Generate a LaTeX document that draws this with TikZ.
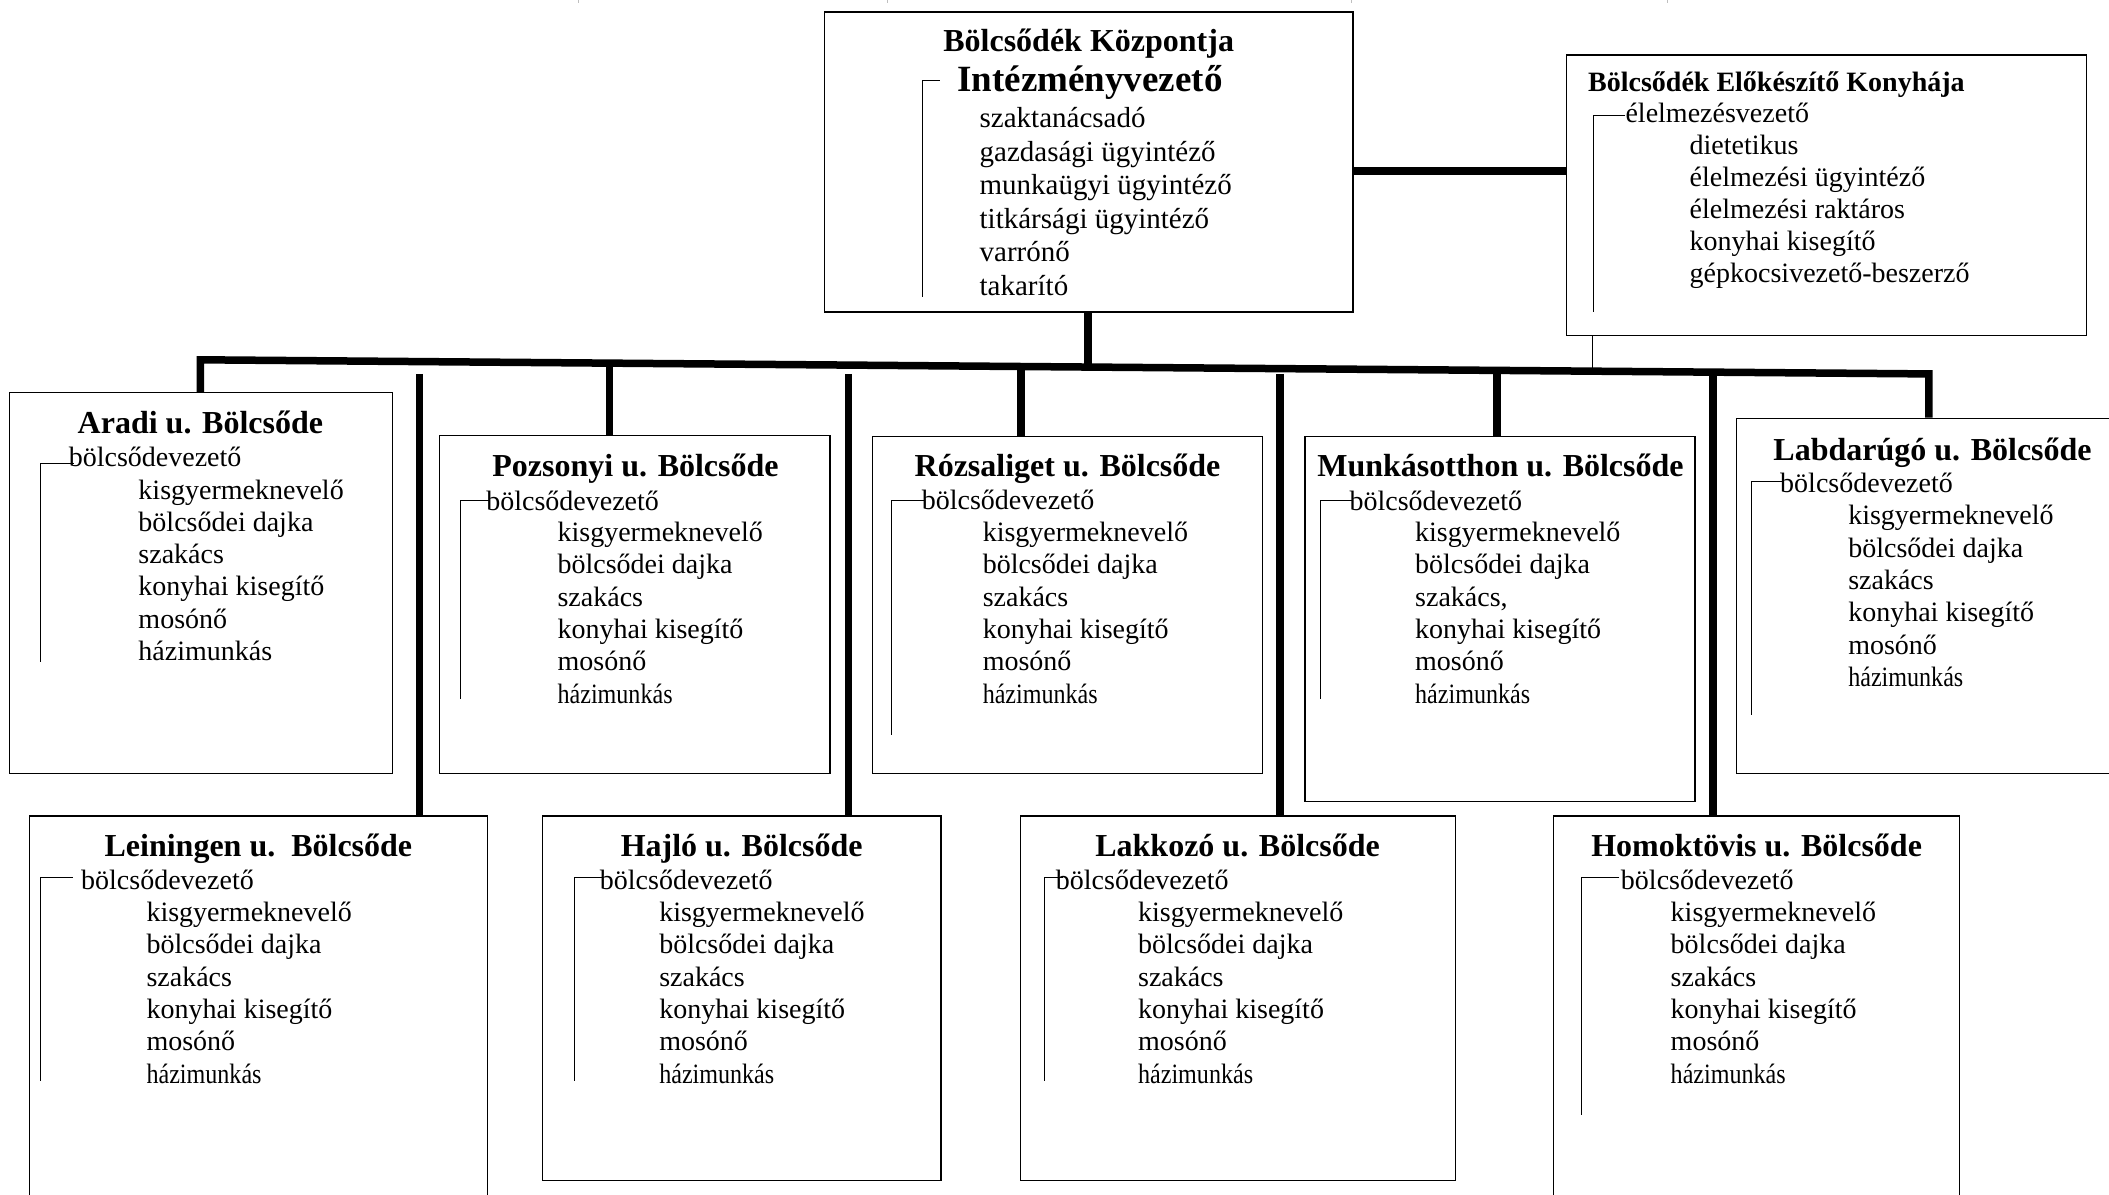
\documentclass[tikz,border=0pt]{standalone}
\usepackage{fontspec}
\setmainfont{Liberation Serif}
\usetikzlibrary{fit,calc}
\newcommand\condensed[1]{\scalebox{0.86}[1]{#1}}
\newcommand\stafflist[5]{\foreach \t [count=\i] in {#5} {\node[itm] (#1-\i) at (#2,{#3+#4*(\i-1)}) {\t};}}
\begin{document}
\begin{tikzpicture}[x=1.345pt,y=-1.345pt,
  unitbox/.style={draw, line width=1.3pt, inner sep=0pt, rectangle},
  ttl/.style={font=\bfseries\fontsize{32}{36}\selectfont, inner sep=0pt, anchor=base},
  bigttl/.style={font=\bfseries\fontsize{37}{40}\selectfont, inner sep=0pt, anchor=base west},
  ktitle/.style={font=\bfseries\fontsize{28}{32}\selectfont, inner sep=0pt, anchor=base west},
  itm/.style={font=\fontsize{28}{32}\selectfont, inner sep=0pt, anchor=base west},
  citm/.style={font=\fontsize{29}{33}\selectfont, inner sep=0pt, anchor=base west},
  thick line/.style={line width=7.5pt},
  thin line/.style={line width=1.3pt},
  brk/.style={line width=1pt}]
\useasboundingbox (0,0) rectangle (1568,888);
\clip (0,0) rectangle (1568,888);
\fill[white] (0,0) rectangle (1568,888);

% faint marks at the top edge
\foreach \mx in {430,660,1005,1240} \draw[gray!50, line width=1pt] (\mx,0) -- (\mx,2.5);

% ---------- boxes ----------
\node[unitbox, fit={(613,9) (1006,232)}] (cent) {};
\node[unitbox, fit={(1164.4,41) (1551.5,249.6)}] (kitch) {};
\node[unitbox, fit={(7,292) (292,575)}] (aradi) {};
\node[unitbox, fit={(327,324) (617,575)}] (pozs) {};
\node[unitbox, fit={(648.8,324.7) (938.5,575)}] (rozsa) {};
\node[unitbox, fit={(970.3,324.7) (1260.2,596)}] (munka) {};
\node[unitbox, fit={(1291.2,311) (1580,575)}] (labda) {};
\node[unitbox, fit={(21.8,606.7) (362.3,900)}] (lein) {};
\node[unitbox, fit={(403.2,606.7) (699.6,877.8)}] (hajlo) {};
\node[unitbox, fit={(758.8,606.7) (1082.2,877.8)}] (lakk) {};
\node[unitbox, fit={(1155,606.7) (1457,900)}] (homok) {};

% ---------- connectors ----------
\coordinate (ck) at (0,127);
\draw[thick line] (cent.east |- ck) -- (kitch.west |- ck);
\coordinate (busL) at (149,267.5);
\coordinate (busR) at (1434,278);
\draw[thick line] (busL |- aradi.north) -- (busL) -- (busR) -- (busR |- labda.north);
\coordinate (bC) at ($(busL)!0.5136!(busR)$);
\draw[thick line] (bC |- cent.south) -- (bC);
\coordinate (bK) at ($(busL)!0.8054!(busR)$);
\draw[thin line] (bK |- kitch.south) -- (bK);
\coordinate (bP) at ($(busL)!0.2366!(busR)$);
\draw[thick line] (bP) -- (bP |- pozs.north);
\coordinate (bR) at ($(busL)!0.4747!(busR)$);
\draw[thick line] (bR) -- (bR |- rozsa.north);
\coordinate (bM) at ($(busL)!0.7502!(busR)$);
\draw[thick line] (bM) -- (bM |- munka.north);
\coordinate (lL) at (312,278);
\draw[thick line] (lL) -- (lL |- lein.north);
\coordinate (lH) at (631,278);
\draw[thick line] (lH) -- (lH |- hajlo.north);
\coordinate (lK) at (951.5,278);
\draw[thick line] (lK) -- (lK |- lakk.north);
\coordinate (lT) at (1273.5,278);
\draw[thick line] (lT) -- (lT |- homok.north);

% ---------- central box ----------
\node[ttl] (cent-t) at (809.4,38.4) {Bölcsődék Központja};
\node[bigttl] (cent-h) at (711.7,68.2) {Intézményvezető};
\draw[brk] (698.7,59.5) -- (685.6,59.5) -- (685.6,220.6);
\foreach \t [count=\i] in {szaktanácsadó, gazdasági ügyintéző, munkaügyi ügyintéző, titkársági ügyintéző, varrónő, takarító}
  {\node[citm] (cent-\i) at (728.2,{94.9+24.9*(\i-1)}) {\t};}

% ---------- kitchen ----------
\node[ktitle] (kitch-t) at (1180.6,68.2) {Bölcsődék Előkészítő Konyhája};
\node[itm] (kitch-h) at (1208.4,91.2) {élelmezésvezető};
\draw[brk] (1208.4,85.5) -- (1184.6,85.5) -- (1184.6,231.7);
\stafflist{kitch}{1256.1}{115.2}{23.75}{dietetikus, élelmezési ügyintéző, élelmezési raktáros, konyhai kisegítő, gépkocsivezető-beszerző}

% ---------- Aradi ----------
\node[ttl] (aradi-t) at (149,322) {Aradi u. Bölcsőde};
\node[itm] (aradi-h) at (51,347) {bölcsődevezető};
\draw[brk] (55,344.5) -- (30.2,344.5) -- (30.2,492);
\stafflist{aradi}{102.8}{371}{24}{kisgyermeknevelő, bölcsődei dajka, szakács, konyhai kisegítő, mosónő, házimunkás}

% ---------- Pozsonyi ----------
\node[ttl] (pozs-t) at (472.5,354.4) {Pozsonyi u. Bölcsőde};
\node[itm] (pozs-h) at (361.4,379.2) {bölcsődevezető};
\draw[brk] (364,372.2) -- (342.5,372.2) -- (342.5,519.7);
\stafflist{pozs}{414.4}{402.7}{24}{kisgyermeknevelő, bölcsődei dajka, szakács, konyhai kisegítő, mosónő, \condensed{házimunkás}}

% ---------- Rózsaliget ----------
\node[ttl] (rozsa-t) at (793.7,354.4) {Rózsaliget u. Bölcsőde};
\node[itm] (rozsa-h) at (685.2,379) {bölcsődevezető};
\draw[brk] (687,372.4) -- (663,372.4) -- (663,546.5);
\stafflist{rozsa}{730.5}{402.7}{24}{kisgyermeknevelő, bölcsődei dajka, szakács, konyhai kisegítő, mosónő, \condensed{házimunkás}}

% ---------- Munkásotthon ----------
\node[ttl] (munka-t) at (1115.6,353.9) {Munkásotthon u. Bölcsőde};
\node[itm] (munka-h) at (1003.2,379.2) {bölcsődevezető};
\draw[brk] (1005,372.2) -- (981.9,372.2) -- (981.9,519.9);
\stafflist{munka}{1052}{402.7}{24}{kisgyermeknevelő, bölcsődei dajka, {szakács,}, konyhai kisegítő, mosónő, \condensed{házimunkás}}

% ---------- Labdarúgó ----------
\node[ttl] (labda-t) at (1436.8,342) {Labdarúgó u. Bölcsőde};
\node[itm] (labda-h) at (1323.4,366.3) {bölcsődevezető};
\draw[brk] (1326,358.1) -- (1301.9,358.1) -- (1301.9,531.6);
\stafflist{labda}{1374}{390.3}{24}{kisgyermeknevelő, bölcsődei dajka, szakács, konyhai kisegítő, mosónő, \condensed{házimunkás}}

% ---------- Leiningen ----------
\node[ttl] (lein-t) at (192.1,637) {Leiningen u.\ \ Bölcsőde};
\node[itm] (lein-h) at (60.2,661) {bölcsődevezető};
\draw[brk] (54,652.3) -- (30.2,652.3) -- (30.2,803.7);
\stafflist{lein}{108.8}{685.2}{24}{kisgyermeknevelő, bölcsődei dajka, szakács, konyhai kisegítő, mosónő, \condensed{házimunkás}}

% ---------- Hajló ----------
\node[ttl] (hajlo-t) at (551.4,637) {Hajló u. Bölcsőde};
\node[itm] (hajlo-h) at (445.9,661) {bölcsődevezető};
\draw[brk] (448,652.3) -- (426.9,652.3) -- (426.9,803.7);
\stafflist{hajlo}{490}{685.2}{24}{kisgyermeknevelő, bölcsődei dajka, szakács, konyhai kisegítő, mosónő, \condensed{házimunkás}}

% ---------- Lakkozó ----------
\node[ttl] (lakk-t) at (920.1,637) {Lakkozó u. Bölcsőde};
\node[itm] (lakk-h) at (784.9,661) {bölcsődevezető};
\draw[brk] (790,652.3) -- (776.9,652.3) -- (776.9,803.7);
\stafflist{lakk}{846}{685.2}{24}{kisgyermeknevelő, bölcsődei dajka, szakács, konyhai kisegítő, mosónő, \condensed{házimunkás}}

% ---------- Homoktövis ----------
\node[ttl] (homok-t) at (1306,637) {Homoktövis u. Bölcsőde};
\node[itm] (homok-h) at (1205,661) {bölcsődevezető};
\draw[brk] (1204,652.3) -- (1176,652.3) -- (1176,829);
\stafflist{homok}{1242}{685.2}{24}{kisgyermeknevelő, bölcsődei dajka, szakács, konyhai kisegítő, mosónő, \condensed{házimunkás}}
\end{tikzpicture}
\end{document}
